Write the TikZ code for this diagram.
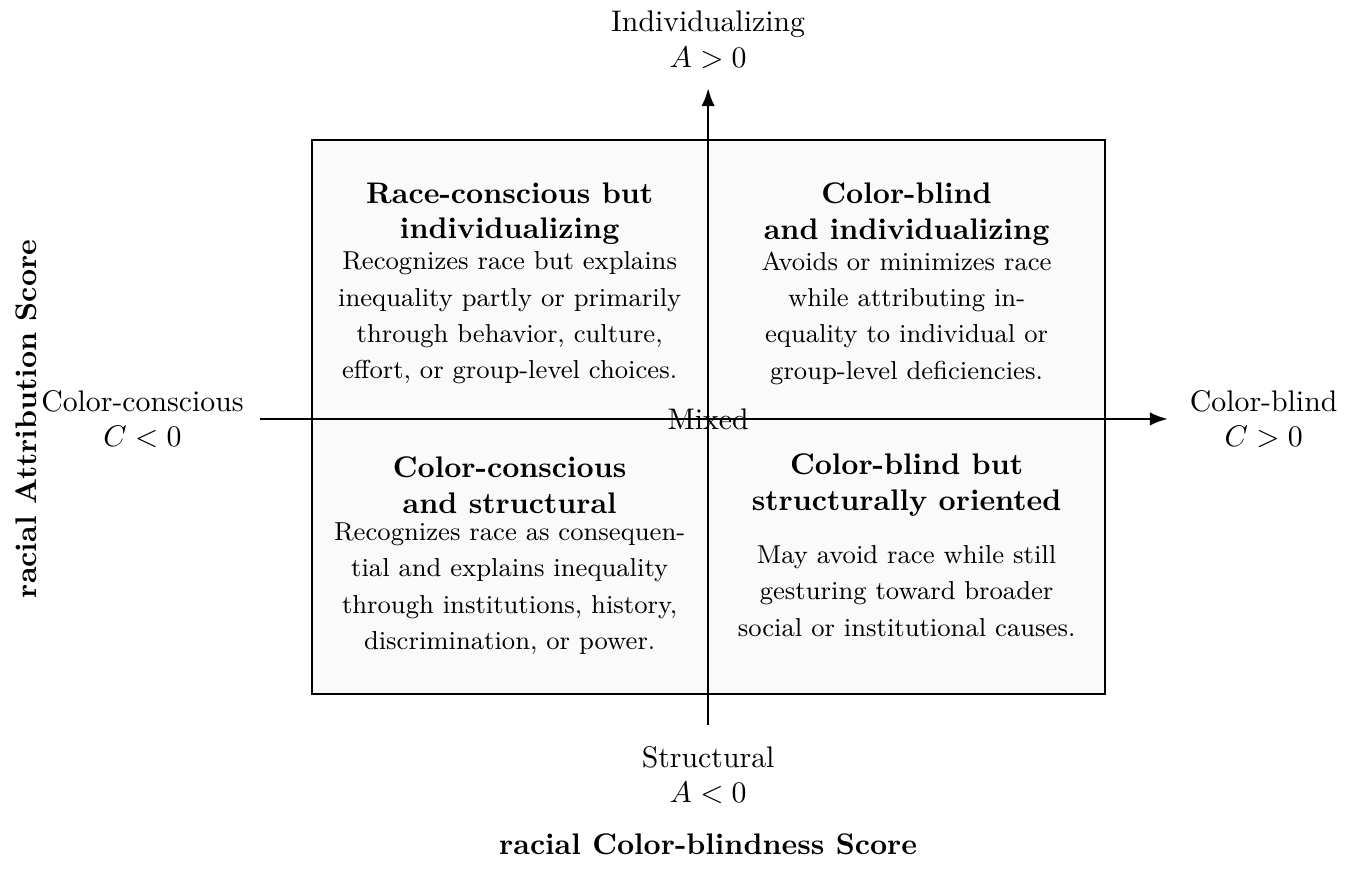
\documentclass[tikz,border=0pt]{standalone}
\usepackage{tikz}
\usetikzlibrary{arrows.meta}

\tikzset{
	quadtitle/.style={font=\bfseries, align=center},
	quadtext/.style={font=\fontsize{8.7}{12.2}\selectfont, align=center},
	axislabel/.style={align=center},
	axisline/.style={thick, -{Latex[length=6pt,width=4.5pt]}},
}

\begin{document}
\begin{tikzpicture}
		%%%%% START %%%%%
		\useasboundingbox (-8.35,-5.44) rectangle (7.58,4.94);
		
		\draw[thick, fill=black!2] (-4.67,-3.24) rectangle (4.68,3.29);
		
		\coordinate (west) at (-5.28,0);
		\coordinate (east) at (5.42,0);
		\coordinate (south) at (0,-3.61);
		\coordinate (north) at (0,3.90);
		\draw[axisline] (west) -- (east);
		\draw[axisline] (south) -- (north);
		
		\node (mixed) at (0,0) {Mixed};
		
		\node[axislabel] (indiv) at (0,4.47) {Individualizing\\$A>0$};
		\node[axislabel] (struct) at (0,-4.20) {Structural\\$A<0$};
		\node[axislabel] (cconsc) at (-6.67,0) {Color-conscious\\$C<0$};
		\node[axislabel] (cblind) at (6.55,0) {Color-blind\\$C>0$};
		
		\node[font=\bfseries] (xtitle) at (0,-5.02) {racial Color-blindness Score};
		\node[font=\bfseries, rotate=90] (ytitle) at (-8.04,0) {racial Attribution Score};
		
		% top left
		\node[quadtitle] (tltitle) at (-2.34,2.42) {Race-conscious but\\individualizing};
		\node[quadtext] (tltext) at (-2.34,1.19) {Recognizes race but explains\\inequality partly or primarily\\through behavior, culture,\\effort, or group-level choices.};
		
		% top right
		\node[quadtitle] (trtitle) at (2.34,2.42) {Color-blind\\and individualizing};
		\node[quadtext] (trtext) at (2.34,1.19) {Avoids or minimizes race\\while attributing in-\\equality to individual or\\group-level deficiencies.};
		
		% bottom left
		\node[quadtitle] (bltitle) at (-2.34,-0.78) {Color-conscious\\and structural};
		\node[quadtext] (bltext) at (-2.34,-2.00) {Recognizes race as consequen-\\tial and explains inequality\\through institutions, history,\\discrimination, or power.};
		
		% bottom right
		\node[quadtitle] (brtitle) at (2.34,-0.78) {Color-blind but\\structurally oriented};
		\node[quadtext] (brtext) at (2.34,-2.03) {May avoid race while still\\gesturing toward broader\\social or institutional causes.};
		
		%%%%% END %%%%%
	\end{tikzpicture}
\end{document}
